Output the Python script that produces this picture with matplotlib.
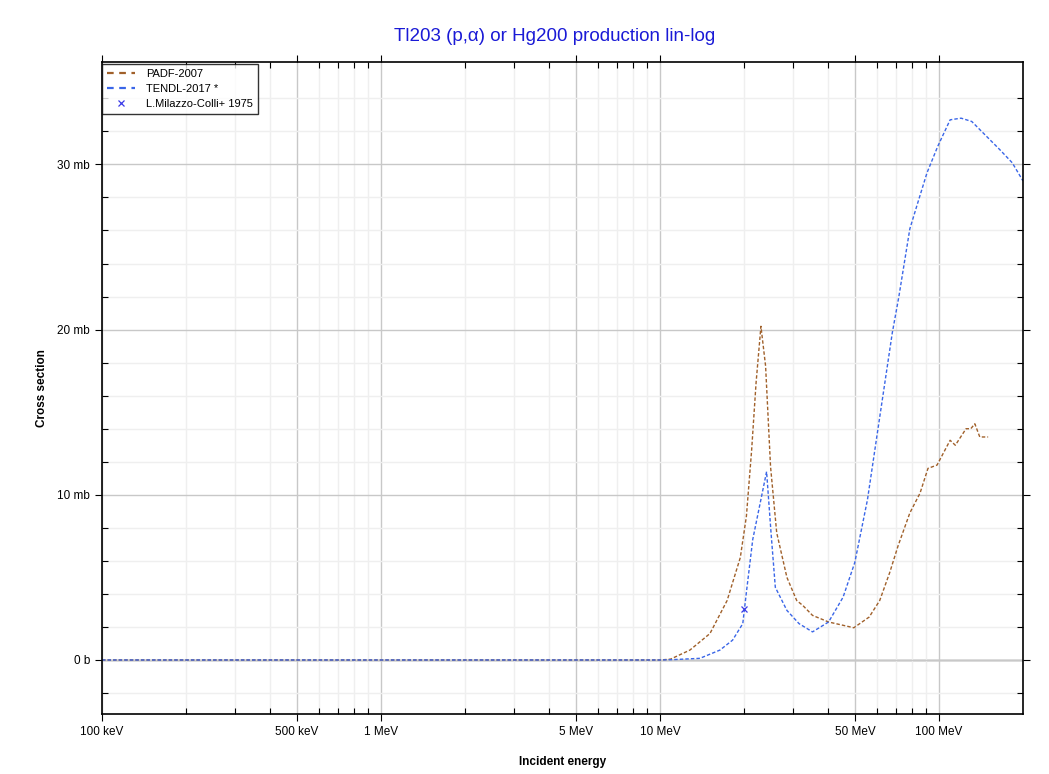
import matplotlib
matplotlib.use("Agg")
import matplotlib.pyplot as plt
from matplotlib.ticker import FixedLocator, NullFormatter
import numpy as np

plt.rcParams['font.family'] = ['Liberation Sans', 'DejaVu Sans']

# Data (energy in MeV, cross section in mb)
padf_e = [0.1, 1.0, 10.0, 10.9, 12.8, 15.1, 17.4, 19.4, 20.4, 21.3, 22.1, 23.0, 23.9, 24.9,
          26.2, 28.5, 30.9, 32.5, 35.2, 40.2, 45.3, 49.5, 56.2, 61.3, 66.6, 71.3, 78.6,
          85.5, 91.3, 98.4, 109.6, 114.4, 125.0, 130.0, 134.4, 140.0, 150.0]
padf_xs = [0.0, 0.0, 0.0, 0.05, 0.6, 1.6, 3.6, 6.2, 8.7, 12.7, 16.8, 20.2, 17.8, 11.7,
           7.7, 5.0, 3.6, 3.3, 2.7, 2.3, 2.1, 1.95, 2.6, 3.6, 5.3, 6.9, 8.9,
           10.1, 11.6, 11.8, 13.3, 13.0, 14.0, 14.0, 14.3, 13.5, 13.5]

tendl_e = [0.1, 1.0, 10.0, 11.1, 13.9, 16.4, 18.2, 19.8, 20.4, 21.5, 24.1, 25.0, 25.9,
           28.5, 31.5, 35.2, 40.2, 45.3, 49.9, 55.4, 61.3, 68.0, 71.8, 78.6, 84.0,
           90.6, 99.0, 109.6, 120.0, 131.0, 148.0, 165.0, 183.0, 200.0]
tendl_xs = [0.0, 0.0, 0.0, 0.02, 0.1, 0.6, 1.2, 2.2, 4.1, 7.3, 11.4, 7.7, 4.4,
            3.0, 2.2, 1.7, 2.3, 3.8, 5.9, 9.7, 14.7, 19.8, 22.0, 26.1, 27.7,
            29.5, 31.1, 32.7, 32.8, 32.6, 31.7, 30.9, 30.1, 29.0]

exp_e = [20.0]
exp_xs = [3.1]

x_ticks = [0.1, 0.5, 1, 5, 10, 50, 100]
x_labels = ['100 keV', '500 keV', '1 MeV', '5 MeV', '10 MeV', '50 MeV', '100 MeV']
y_ticks = [0, 10, 20, 30]
y_labels = ['0 b', '10 mb', '20 mb', '30 mb']

fig = plt.figure(figsize=(10.49, 7.74), dpi=100)
ax = fig.add_axes([102/1049, 60/774, (1023-102)/1049, (714-62)/774])

ax.plot(padf_e, padf_xs, color='#a0602a', lw=1.0, dashes=(2.5, 1.5), label='PADF-2007')
ax.plot(tendl_e, tendl_xs, color='#3a66e8', lw=1.0, dashes=(2.5, 1.5), label='TENDL-2017 *')
ax.plot(exp_e, exp_xs, ls='none', marker='x', color='#3a3ae8', ms=5, mew=0.9,
        label='L.Milazzo-Colli+ 1975')

ax.set_xscale('log')
ax.set_xlim(0.1, 200)
ax.set_ylim(-3.27, 36.2)

ax.xaxis.set_major_locator(FixedLocator(x_ticks))
ax.set_xticklabels(x_labels)
minor_x = [m * 10.0**d for d in range(-1, 3) for m in (2, 3, 4, 6, 7, 8, 9)]
minor_x = [v for v in minor_x if 0.1 < v < 200]
ax.xaxis.set_minor_locator(FixedLocator(minor_x))
ax.xaxis.set_minor_formatter(NullFormatter())

ax.yaxis.set_major_locator(FixedLocator(y_ticks))
ax.set_yticklabels(y_labels)
ax.yaxis.set_minor_locator(FixedLocator([v for v in np.arange(-2, 36, 2) if v % 10 != 0]))

ax.grid(True, which='major', color='#c8c8c8', lw=1.0)
ax.grid(True, which='minor', color='#efefef', lw=1.0)
ax.axhline(0, color='#dddddd', lw=2.0, zorder=0.5)
ax.set_axisbelow(True)

ax.tick_params(axis='both', which='major', direction='out', length=5, labelsize=8.5, width=0.8)
ax.tick_params(axis='both', which='minor', direction='in', length=4, width=0.8)
ax.tick_params(axis='y', which='both', right=True)
ax.tick_params(axis='x', which='both', top=True)
for s in ax.spines.values():
    s.set_linewidth(1.2)

ax.set_xlabel('Incident energy', fontsize=8.5, fontweight='bold', labelpad=13)
ax.set_ylabel('Cross section', fontsize=8.5, fontweight='bold', labelpad=7)
fig.text(0.529, 0.953, 'Tl203 (p,α) or Hg200 production lin-log', color='#1a1ad6',
         fontsize=13.5, ha='center', va='center')

leg = ax.legend(loc='upper left', fontsize=8, frameon=True, fancybox=False,
                edgecolor='black', borderaxespad=0.0, handlelength=2.5,
                borderpad=0.45, labelspacing=0.45, handletextpad=1.0)
leg.get_frame().set_linewidth(1.0)
leg.set_bbox_to_anchor((0.0, 0.997), transform=ax.transAxes)
for ln in leg.get_lines()[:2]:
    ln.set_linewidth(1.6)
    ln.set_dashes((3, 2.5))

fig.savefig('out.png', dpi=100)
